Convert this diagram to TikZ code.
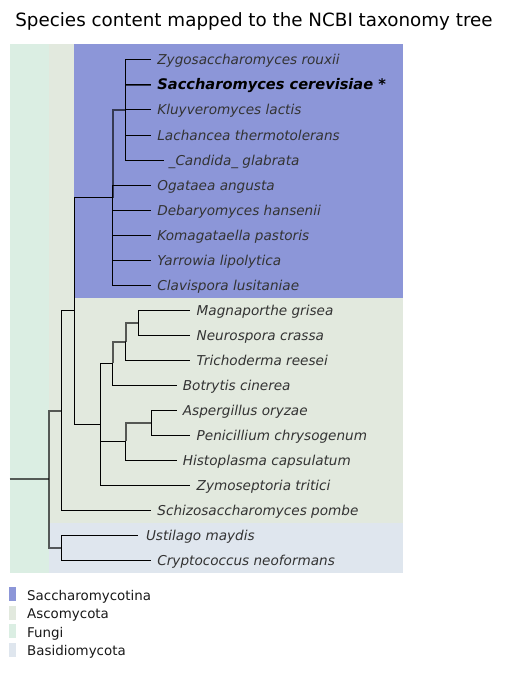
\documentclass[tikz,border=0pt]{standalone}
\usepackage{fontspec}
\setmainfont{DejaVu Sans}
\usepackage{tikz}
\usetikzlibrary{positioning}
\definecolor{taxsaccha}{HTML}{8C96D8}
\definecolor{taxasco}{HTML}{E2E9DE}
\definecolor{taxfungi}{HTML}{DBEEE3}
\definecolor{taxbasid}{HTML}{DFE6EE}
\definecolor{taxtext}{HTML}{333333}

\begin{document}
\begin{tikzpicture}[
  x=1pt, y=-1pt,
  edge/.style={black, line width=1pt},
  edge soft/.style={black, opacity=0.62, line width=2pt},
  leaf/.style={inner sep=0pt, text height=10pt, text depth=0pt, text=taxtext, font=\fontsize{13.6}{16}\selectfont\itshape},
  leaf main/.style={leaf, text=black, font=\fontsize{14.6}{17}\selectfont\bfseries\itshape},
  legend box/.style={inner sep=0pt, minimum width=6.7pt, minimum height=14pt},
  legend text/.style={inner sep=0pt, text height=12pt, text depth=0pt, text=black!90, font=\fontsize{13.4}{16}\selectfont}
]
\useasboundingbox (0,0) rectangle (508,674);

% title
\node[anchor=base, font=\fontsize{18.3}{22}\selectfont] (title) at (254,27) {Species content mapped to the NCBI taxonomy tree};

% clade backgrounds
\fill[taxfungi] (9.5,44.5) rectangle (48.5,573);
\fill[taxasco] (48.5,44.5) rectangle (403,522.5);
\fill[taxbasid] (48.5,522.5) rectangle (403,573);
\fill[taxsaccha] (74,44.5) rectangle (403,298);

% internal nodes
\coordinate (root) at (9.5,479);
\coordinate (nFungi) at (48.5,479);
\coordinate (nAsco) at (61,410.5);
\coordinate (nBasid) at (61,547.5);
\coordinate (nAscoCore) at (74,310.75);
\coordinate (nYeast) at (112.7,197.5);
\coordinate (nSacch) at (125.7,110);
\coordinate (nPezizo) at (100,424);
\coordinate (nSordLeo) at (112.7,363.3);
\coordinate (nSord) at (125.7,341.7);
\coordinate (nMagNeu) at (138.3,322.5);
\coordinate (nEuro) at (125.7,441.25);
\coordinate (nAspPen) at (151.7,422.5);

% leaf tips
\coordinate (tZygo) at (150.7,60);
\coordinate (tScer) at (150.7,85);
\coordinate (tKlac) at (150.7,110);
\coordinate (tLthe) at (150.7,135);
\coordinate (tCgla) at (164,160);
\coordinate (tOang) at (150.7,185);
\coordinate (tDhan) at (150.7,210);
\coordinate (tKpas) at (150.7,235);
\coordinate (tYlip) at (150.7,260);
\coordinate (tClus) at (150.7,285);
\coordinate (tMgri) at (190,310);
\coordinate (tNcra) at (190,335);
\coordinate (tTree) at (190,360);
\coordinate (tBcin) at (176.7,385);
\coordinate (tAory) at (176.7,410);
\coordinate (tPchr) at (190,435);
\coordinate (tHcap) at (176.7,460);
\coordinate (tZtri) at (190,485);
\coordinate (tSpom) at (150.7,510);
\coordinate (tUmay) at (138.3,535);
\coordinate (tCneo) at (150.7,560);

% species labels
\node[leaf, right=6.5pt of tZygo] (lZygo) {Zygosaccharomyces rouxii};
\node[leaf main, right=6.5pt of tScer] (lScer) {Saccharomyces cerevisiae *};
\node[leaf, right=6.5pt of tKlac] (lKlac) {Kluyveromyces lactis};
\node[leaf, right=6.5pt of tLthe] (lLthe) {Lachancea thermotolerans};
\node[leaf, right=4.5pt of tCgla] (lCgla) {\_Candida\_ glabrata};
\node[leaf, right=6.5pt of tOang] (lOang) {Ogataea angusta};
\node[leaf, right=6.5pt of tDhan] (lDhan) {Debaryomyces hansenii};
\node[leaf, right=6.5pt of tKpas] (lKpas) {Komagataella pastoris};
\node[leaf, right=6.5pt of tYlip] (lYlip) {Yarrowia lipolytica};
\node[leaf, right=6.5pt of tClus] (lClus) {Clavispora lusitaniae};
\node[leaf, right=6.5pt of tMgri] (lMgri) {Magnaporthe grisea};
\node[leaf, right=6.5pt of tNcra] (lNcra) {Neurospora crassa};
\node[leaf, right=6.5pt of tTree] (lTree) {Trichoderma reesei};
\node[leaf, right=6pt of tBcin] (lBcin) {Botrytis cinerea};
\node[leaf, right=6pt of tAory] (lAory) {Aspergillus oryzae};
\node[leaf, right=6.5pt of tPchr] (lPchr) {Penicillium chrysogenum};
\node[leaf, right=6pt of tHcap] (lHcap) {Histoplasma capsulatum};
\node[leaf, right=6.5pt of tZtri] (lZtri) {Zymoseptoria tritici};
\node[leaf, right=6.5pt of tSpom] (lSpom) {Schizosaccharomyces pombe};
\node[leaf, right=7.5pt of tUmay] (lUmay) {Ustilago maydis};
\node[leaf, right=6.5pt of tCneo] (lCneo) {Cryptococcus neoformans};

% branches
\draw[edge soft] (root) -- (nFungi);
\draw[edge soft] (nFungi) |- (nAsco);
\draw[edge soft] (nFungi) |- (nBasid);
\draw[edge] (nAsco) |- (nAscoCore);
\draw[edge] (nAsco) |- (tSpom);
\draw[edge] (nBasid) |- (tUmay);
\draw[edge] (nBasid) |- (tCneo);
\draw[edge] (nAscoCore) |- (nYeast);
\draw[edge] (nAscoCore) |- (nPezizo);
% Saccharomycotina
\draw[edge] (nYeast) |- (tOang);
\draw[edge] (nYeast) |- (tDhan);
\draw[edge] (nYeast) |- (tKpas);
\draw[edge] (nYeast) |- (tYlip);
\draw[edge] (nYeast) |- (tClus);
\draw[edge soft] (nYeast) |- (nSacch);
\draw[edge] (nSacch) |- (tZygo);
\draw[edge soft] (nSacch |- tScer) -- (tScer);
\draw[edge] (nSacch) |- (tScer);
\draw[edge] (nSacch) |- (tKlac);
\draw[edge] (nSacch) |- (tLthe);
\draw[edge] (nSacch) |- (tCgla);
% Pezizomycotina
\draw[edge] (nPezizo) |- (nSordLeo);
\draw[edge] (nPezizo) |- (nEuro);
\draw[edge] (nPezizo) |- (tZtri);
\draw[edge soft] (nSordLeo) |- (nSord);
\draw[edge] (nSordLeo) |- (tBcin);
\draw[edge soft] (nSord) |- (nMagNeu);
\draw[edge] (nSord) |- (tTree);
\draw[edge] (nMagNeu) |- (tMgri);
\draw[edge] (nMagNeu) |- (tNcra);
\draw[edge soft] (nEuro) |- (nAspPen);
\draw[edge] (nEuro) |- (tHcap);
\draw[edge] (nAspPen) |- (tAory);
\draw[edge] (nAspPen) |- (tPchr);

% legend
\node[legend box, fill=taxsaccha] (kSaccha) at (12.65,594) {};
\node[legend box, fill=taxasco, below=4.2pt of kSaccha] (kAsco) {};
\node[legend box, fill=taxfungi, below=4.2pt of kAsco] (kFungi) {};
\node[legend box, fill=taxbasid, below=4.2pt of kFungi] (kBasid) {};
\node[legend text, right=10.8pt of kSaccha] (xSaccha) {Saccharomycotina};
\node[legend text, right=10.8pt of kAsco] (xAsco) {Ascomycota};
\node[legend text, right=10.8pt of kFungi] (xFungi) {Fungi};
\node[legend text, right=10.8pt of kBasid] (xBasid) {Basidiomycota};
\end{tikzpicture}
\end{document}
